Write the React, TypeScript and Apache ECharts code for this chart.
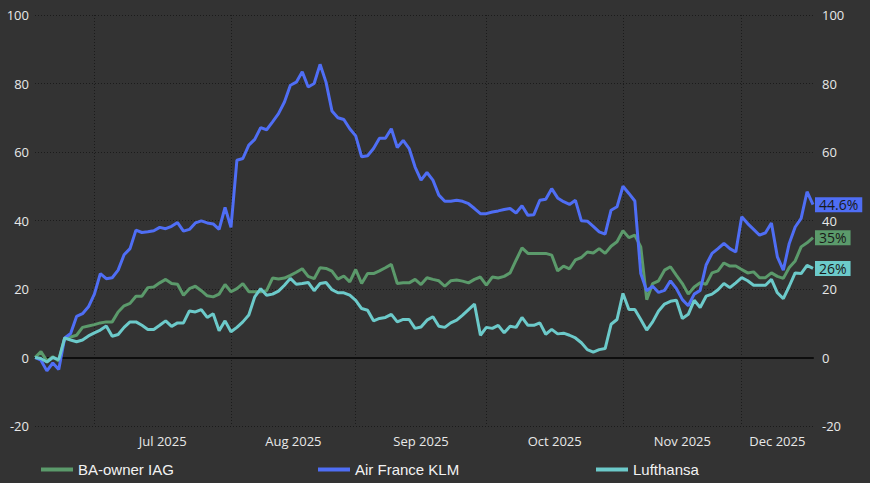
import React, { useEffect, useRef } from "react";
import * as echarts from "echarts";

const START_DATE = "2025-06-17";
const END_DATE = "2025-12-17";
const MONTH_ABBR = ["Jan", "Feb", "Mar", "Apr", "May", "Jun", "Jul", "Aug", "Sep", "Oct", "Nov", "Dec"];

const SERIES_NAMES = ["BA-owner IAG", "Air France KLM", "Lufthansa"];
const SERIES_COLORS = ["#5b9a6b", "#4f6ef5", "#6ccaca"];
const END_LABELS = ["35%", "44.6%", "26%"];

const IAG = [
  0, 1.7, -1, 0.2, -1, 5.7, 6, 6.5, 8.8, 9.2, 9.6, 10.1, 10.4, 10.4, 13.3, 15.1, 15.8, 17.9, 17.9, 20.4,
  20.6, 21.8, 22.8, 21.6, 21.4, 18.2, 20.1, 20.8, 19.5, 18, 17.7, 18.5, 21.3, 19.2, 20.1, 21.6, 19.2, 19.2, 19.2, 19.5,
  23.2, 22.9, 23.2, 24, 24.9, 25.9, 23.7, 23, 26.2, 26, 25.2, 22.9, 23.8, 22.1, 25.7, 21.6, 24.5, 24.5, 25.3, 26.2,
  27.2, 21.6, 21.8, 21.8, 22.8, 21.3, 23.3, 22.8, 22.4, 20.8, 22.4, 22.6, 22.3, 21.8, 22.8, 23.5, 21.1, 23.5, 23.2, 23.7,
  24.7, 28.4, 32, 30.4, 30.4, 30.4, 30.4, 29.9, 25.3, 26.7, 25.9, 28.5, 29.2, 30.8, 30.5, 31.8, 30.4, 32.5, 33.8, 37,
  35, 35.7, 32.3, 16.9, 21.6, 22.4, 25.5, 26.5, 24, 21.6, 18.5, 20.6, 21.8, 21.4, 24.7, 25.3, 27.6, 26.7, 26.7, 25.7,
  24.7, 25, 23.3, 23.3, 24.7, 23.7, 23.1, 26.3, 28.2, 32.3, 33.5, 35,
];

const AFKLM = [
  0, -0.8, -3.9, -1.6, -3.5, 5.7, 7, 12, 12.8, 14.8, 18.5, 24.5, 23, 23.3, 25.5, 30, 31.8, 37.2, 36.5, 36.7,
  37, 38, 37.6, 38.3, 39.4, 36.9, 37.4, 39.3, 39.9, 39.3, 39, 37.4, 43.8, 38, 57.6, 58.1, 62, 63.7, 67.1, 66.5,
  68.8, 71.2, 74.6, 79.5, 80.4, 83.4, 79, 80, 85.6, 80.4, 72, 70, 69.5, 66.8, 64.7, 58.6, 58.9, 61, 64, 64,
  66.8, 61.3, 63.4, 61, 55.6, 51.8, 54, 51.8, 47.4, 45.6, 45.6, 45.9, 45.6, 44.9, 43.5, 42, 42, 42.5, 42.8, 43.2,
  43.5, 42.2, 44.3, 41.5, 41.7, 45.9, 46.2, 49.3, 46.6, 45.5, 44.7, 45.9, 39.9, 39.8, 38.3, 36.7, 36, 43, 44, 50,
  47.9, 45.7, 24.5, 19.5, 20.8, 19, 19.6, 22.4, 20.1, 16.9, 15.1, 18.5, 19.6, 27, 30.4, 31.8, 33.3, 31.8, 30.8, 41.1,
  39.1, 37.4, 35.7, 36.4, 39.3, 29.4, 25.5, 33.3, 38.1, 40.6, 48.4, 44.6,
];

const LUFTHANSA = [
  0, -0.3, -1.3, 0, -0.6, 5.7, 5.1, 4.6, 5.1, 6.3, 7.2, 8, 9.2, 6.2, 6.7, 8.8, 10.4, 10.4, 9.4, 8.2,
  8.2, 9.4, 10.7, 9.1, 10.1, 10.1, 13.6, 13.3, 14, 11.7, 12.8, 7.8, 10.7, 7.5, 8.8, 10.4, 12.4, 17.7, 20.1, 18.2,
  18.5, 19.4, 21.1, 23.1, 21.4, 21.6, 21.9, 19.5, 21.6, 21.9, 19.8, 18.9, 18.9, 18.2, 16.7, 14.3, 13.8, 10.7, 11.4, 11.7,
  12.6, 10.4, 11.1, 11.1, 8.5, 8.9, 10.9, 11.9, 9.1, 8.8, 10.1, 10.9, 12.4, 14, 15.6, 6.5, 8.8, 8.5, 9.4, 7.2,
  9.1, 8.8, 11.7, 9.4, 9.4, 10.1, 6.8, 8.2, 6.9, 7.1, 6.5, 5.7, 4.3, 2.3, 1.6, 2.3, 2.6, 9.7, 11.1, 18.7,
  14, 14, 11.1, 8, 10.4, 13.6, 15.6, 16.4, 16.7, 11.4, 12.6, 16.7, 14.6, 17.9, 18.5, 19.8, 21.6, 20.4, 21.8, 23.3,
  22.4, 21.1, 21.1, 21.1, 22.8, 18.9, 17.2, 20.8, 24.7, 24.5, 26.9, 26,
];

const SERIES_DATA = [IAG, AFKLM, LUFTHANSA];

function buildTradingDays(start: string, end: string): string[] {
  const out: string[] = [];
  const d = new Date(start + "T00:00:00Z");
  const e = new Date(end + "T00:00:00Z");
  while (d <= e) {
    const wd = d.getUTCDay();
    if (wd !== 0 && wd !== 6) out.push(d.toISOString().slice(0, 10));
    d.setUTCDate(d.getUTCDate() + 1);
  }
  return out;
}

const DATES = buildTradingDays(START_DATE, END_DATE);

export default function App() {
  const ref = useRef<HTMLDivElement>(null);

  useEffect(() => {
    if (!ref.current) return;
    const chart = echarts.init(ref.current, undefined, { renderer: "svg" });

    const monthStarts = new Set<number>();
    const starts: number[] = [0];
    for (let i = 1; i < DATES.length; i++) {
      if (DATES[i].slice(0, 7) !== DATES[i - 1].slice(0, 7)) {
        monthStarts.add(i);
        starts.push(i);
      }
    }
    const labelMap = new Map<number, { text: string; half: boolean }>();
    for (let k = 1; k < starts.length; k++) {
      const s = starts[k];
      const e = k + 1 < starts.length ? starts[k + 1] : DATES.length - 1;
      const mid = (s + e) / 2;
      const idx = Math.floor(mid);
      const mon = parseInt(DATES[s].slice(5, 7), 10) - 1;
      labelMap.set(idx, { text: `${MONTH_ABBR[mon]} ${DATES[s].slice(0, 4)}`, half: mid - idx > 0 });
    }

    const gridLine = { color: "#1b1b1b", type: [1, 2] as any, width: 1 };
    const yLabel = { color: "#e8e8e8", fontSize: 13, fontFamily: "'Open Sans', 'Noto Sans', sans-serif" };

    chart.setOption({
      animation: false,
      backgroundColor: "#333333",
      grid: { left: 35, right: 57, top: 15, bottom: 57, containLabel: false },
      xAxis: [
        {
          type: "category",
          data: DATES,
          boundaryGap: false,
          position: "bottom",
          axisLine: { show: true, onZero: true, lineStyle: { color: "#0d0d0d", width: 2 } },
          axisTick: { show: false },
          axisLabel: { show: false },
          splitLine: { show: true, interval: (i: number) => monthStarts.has(i), lineStyle: gridLine },
        },
        {
          type: "category",
          data: DATES,
          boundaryGap: false,
          position: "bottom",
          axisLine: { show: false, onZero: false },
          axisTick: { show: false },
          splitLine: { show: false },
          axisLabel: {
            show: true,
            interval: (i: number) => labelMap.has(i),
            margin: 8,
            color: "#e8e8e8",
            fontSize: 13,
            fontFamily: "'Open Sans', 'Noto Sans', sans-serif",
            formatter: (_v: string, i: number) => {
              const l = labelMap.get(i);
              if (!l) return "";
              return l.half ? `{h|${l.text}}` : `{n|${l.text}}`;
            },
            rich: {
              h: { padding: [0, 0, 0, 6], color: "#e8e8e8", fontSize: 13, fontFamily: "'Open Sans', 'Noto Sans', sans-serif" },
              n: { color: "#e8e8e8", fontSize: 13, fontFamily: "'Open Sans', 'Noto Sans', sans-serif" },
            },
          },
        },
      ],
      yAxis: [
        {
          type: "value",
          min: -20,
          max: 100,
          interval: 20,
          position: "left",
          axisLine: { show: false },
          axisTick: { show: false },
          axisLabel: { ...yLabel, margin: 6 },
          splitLine: { show: true, lineStyle: gridLine },
        },
        {
          type: "value",
          min: -20,
          max: 100,
          interval: 20,
          position: "right",
          axisLine: { show: false },
          axisTick: { show: false },
          axisLabel: { ...yLabel, margin: 9 },
          splitLine: { show: false },
        },
      ],
      legend: SERIES_NAMES.map((name, k) => ({
        data: [name],
        left: [41, 318, 596][k],
        top: 462,
        padding: 0,
        icon: "rect",
        itemWidth: 32,
        itemHeight: 4,
        itemGap: 5,
        selectedMode: false,
        textStyle: { color: "#f2f2f2", fontSize: 15, fontFamily: "'Liberation Sans', Arial, sans-serif" },
      })),
      series: SERIES_NAMES.map((name, k) => ({
        name,
        type: "line",
        data: SERIES_DATA[k],
        xAxisIndex: 0,
        yAxisIndex: 0,
        showSymbol: false,
        symbol: "none",
        color: SERIES_COLORS[k],
        lineStyle: { width: 3, color: SERIES_COLORS[k] },
        z: 3 + k,
        endLabel: {
          show: true,
          formatter: () => END_LABELS[k],
          backgroundColor: SERIES_COLORS[k],
          color: "#1a1a1a",
          fontSize: 14,
          fontFamily: "'Open Sans', 'Noto Sans', sans-serif",
          padding: [1, 4, 0, 4],
          distance: 2,
        },
      })),
    });

    return () => chart.dispose();
  }, []);

  return <div ref={ref} style={{ position: "fixed", left: 0, top: 0, width: 870, height: 483 }} />;
}
